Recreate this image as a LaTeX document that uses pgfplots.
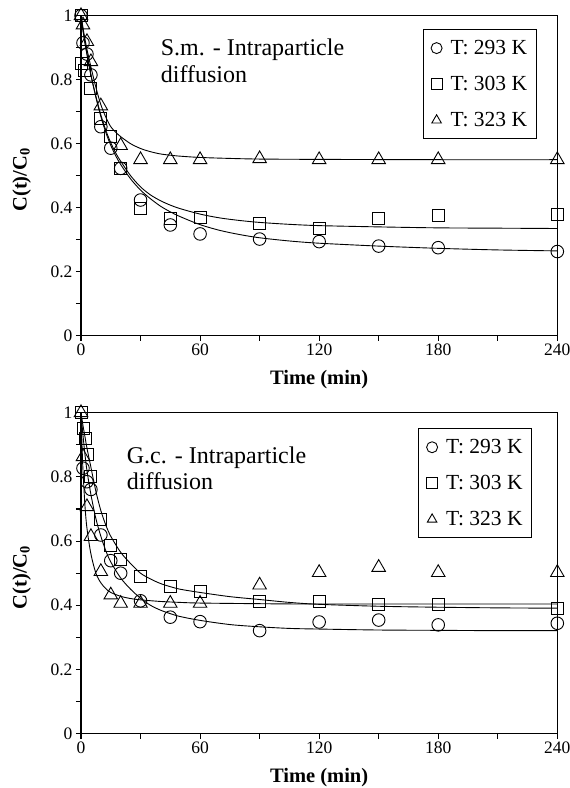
\documentclass[border=0pt]{standalone}
\usepackage{fontspec}
\setmainfont{Liberation Serif}
\usepackage{pgfplots}
\pgfplotsset{compat=1.18}

\pgfplotsset{
  kin/.style={
    scale only axis, width=476.3pt,
    xmin=0, xmax=240, ymin=0, ymax=1,
    xtick={0,60,120,180,240}, minor xtick={30,90,150,210},
    ytick={0,0.2,0.4,0.6,0.8,1}, minor ytick={0.1,0.3,0.5,0.7,0.9},
    yticklabels={0,0.2,0.4,0.6,0.8,1},
    tick align=outside, tick pos=left,
    major tick length=5pt, minor tick length=5pt,
    axis line style={line width=1.2pt},
    tick style={line width=1.1pt, black},
    ticklabel style={font=\fontsize{17.5}{20}\selectfont},
    /pgf/number format/assume math mode=true,
    xlabel={\textbf{Time (min)}},
    xlabel style={font=\fontsize{20.5}{24}\selectfont, at={(axis description cs:0.5,-0.151)}, anchor=base},
    ylabel={\textbf{C(t)/C\textsubscript{0}}},
    ylabel style={font=\fontsize{20.5}{24}\selectfont, at={(axis description cs:-0.1245,0.487)}, anchor=center, rotate=0},
    legend cell align=left,
    legend image code/.code={\path (-6pt,0pt) (11.5pt,0pt); \draw[##1, mark size=5.5pt] plot coordinates {(0pt,0pt)};},
    legend style={draw=black, line width=0.9pt, font=\fontsize{21.5}{25}\selectfont,
      anchor=north west, row sep=16.3pt, inner xsep=7pt, inner ysep=8.5pt},
  },
  curve/.style={black, line width=0.9pt, smooth, no marks, forget plot},
  pc/.style={black, only marks, mark=o, mark size=6.3pt, mark options={line width=0.9pt}},
  ps/.style={black, only marks, mark=square, mark size=6pt, mark options={line width=0.9pt}},
  pt/.style={black, only marks, mark=triangle, mark size=7.8pt, mark options={line width=0.9pt}},
}

\begin{document}
\begin{tikzpicture}
\useasboundingbox (0,0) rectangle (570pt,788pt);

% ---------------- top: S.m. ----------------
\begin{axis}[kin, height=320pt, at={(81pt,452.3pt)}, anchor=south west,
  legend style={at={(axis description cs:0.7174,0.9575)}}]
\addplot[curve] coordinates {(0,1) (1,0.955) (2,0.915) (3,0.88) (5,0.815) (7.5,0.745) (10,0.685) (12.5,0.635) (15,0.595) (17.5,0.562) (20,0.535) (25,0.49) (30,0.455) (35,0.428) (40,0.405) (45,0.387) (50,0.372) (60,0.347) (70,0.329) (80,0.316) (90,0.306) (105,0.296) (120,0.289) (150,0.28) (180,0.273) (210,0.268) (240,0.265)};
\addplot[curve] coordinates {(0,1) (1,0.955) (2,0.915) (3,0.88) (5,0.815) (7.5,0.748) (10,0.69) (12.5,0.642) (15,0.603) (17.5,0.571) (20,0.545) (25,0.5) (30,0.465) (35,0.44) (40,0.422) (45,0.408) (50,0.397) (60,0.38) (70,0.368) (80,0.36) (90,0.354) (105,0.348) (120,0.344) (150,0.34) (180,0.337) (210,0.336) (240,0.335)};
\addplot[curve] coordinates {(0,1) (1,0.962) (2,0.927) (3,0.895) (5,0.84) (7.5,0.776) (10,0.722) (12.5,0.683) (15,0.653) (17.5,0.636) (20,0.622) (25,0.6) (30,0.585) (35,0.575) (40,0.568) (45,0.564) (50,0.561) (60,0.557) (75,0.554) (90,0.552) (120,0.551) (180,0.55) (240,0.55)};
\addplot[pc] coordinates {(0,1) (1,0.915) (3,0.88) (5,0.815) (10,0.653) (15,0.586) (20,0.523) (30,0.424) (45,0.346) (60,0.318) (90,0.302) (120,0.294) (150,0.28) (180,0.275) (240,0.263)};
\addlegendentry{T: 293 K}
\addplot[ps] coordinates {(0,1) (0.3,0.851) (1.5,0.83) (5,0.773) (10,0.679) (15,0.622) (20,0.523) (30,0.397) (45,0.367) (60,0.369) (90,0.351) (120,0.336) (150,0.365) (180,0.375) (240,0.379)};
\addlegendentry{T: 303 K}
\addplot[pt] coordinates {(0,1) (1,0.971) (3,0.919) (5,0.856) (10,0.718) (20,0.594) (30,0.55) (45,0.55) (60,0.55) (90,0.553) (120,0.55) (150,0.55) (180,0.55) (240,0.55)};
\addlegendentry{T: 323 K}
\node[anchor=north west, inner sep=0pt, align=left, font=\fontsize{24}{26.7}\selectfont]
  at (axis description cs:0.1673,0.927) {S.m. - Intraparticle\\diffusion};
\end{axis}

% ---------------- bottom: G.c. ----------------
\begin{axis}[kin, height=321pt, at={(81pt,54.3pt)}, anchor=south west,
  legend style={at={(axis description cs:0.708,0.951)}}]
\addplot[curve] coordinates {(0,1) (1,0.93) (2,0.87) (3,0.82) (5,0.745) (7.5,0.67) (10,0.615) (12.5,0.57) (15,0.535) (20,0.485) (25,0.45) (30,0.422) (35,0.40) (40,0.385) (45,0.374) (50,0.365) (60,0.353) (75,0.34) (90,0.333) (105,0.328) (120,0.326) (150,0.323) (180,0.322) (210,0.321) (240,0.321)};
\addplot[curve] coordinates {(0,1) (1,0.96) (2,0.925) (3,0.89) (5,0.83) (7.5,0.755) (10,0.695) (12.5,0.65) (15,0.615) (20,0.565) (25,0.53) (30,0.50) (35,0.482) (40,0.468) (45,0.458) (50,0.45) (60,0.44) (75,0.427) (90,0.418) (105,0.409) (120,0.403) (150,0.397) (180,0.394) (210,0.392) (240,0.391)};
\addplot[curve] coordinates {(0,1) (0.5,0.9) (1,0.82) (2,0.71) (3,0.64) (5,0.56) (7.5,0.50) (10,0.47) (12.5,0.452) (15,0.44) (20,0.428) (25,0.421) (30,0.417) (40,0.412) (50,0.409) (60,0.407) (90,0.405) (120,0.404) (240,0.404)};
\addplot[pc] coordinates {(1,0.827) (3,0.785) (5,0.761) (10,0.619) (15,0.539) (20,0.50) (30,0.414) (45,0.363) (60,0.349) (90,0.321) (120,0.348) (150,0.354) (180,0.339) (240,0.344)};
\addlegendentry{T: 293 K}
\addplot[ps] coordinates {(0,1) (1,0.951) (2,0.92) (3,0.87) (5,0.80) (10,0.666) (15,0.588) (20,0.543) (30,0.489) (45,0.46) (60,0.442) (90,0.413) (120,0.413) (150,0.404) (180,0.404) (240,0.391)};
\addlegendentry{T: 303 K}
\addplot[pt] coordinates {(0,1) (1,0.863) (3,0.707) (5,0.614) (10,0.505) (15,0.432) (20,0.406) (30,0.406) (45,0.406) (60,0.406) (90,0.463) (120,0.502) (150,0.518) (180,0.502) (240,0.502)};
\addlegendentry{T: 323 K}
\node[anchor=north west, inner sep=0pt, align=left, font=\fontsize{24}{26.7}\selectfont]
  at (axis description cs:0.096,0.895) {G.c. - Intraparticle\\diffusion};
\end{axis}
\end{tikzpicture}
\end{document}
